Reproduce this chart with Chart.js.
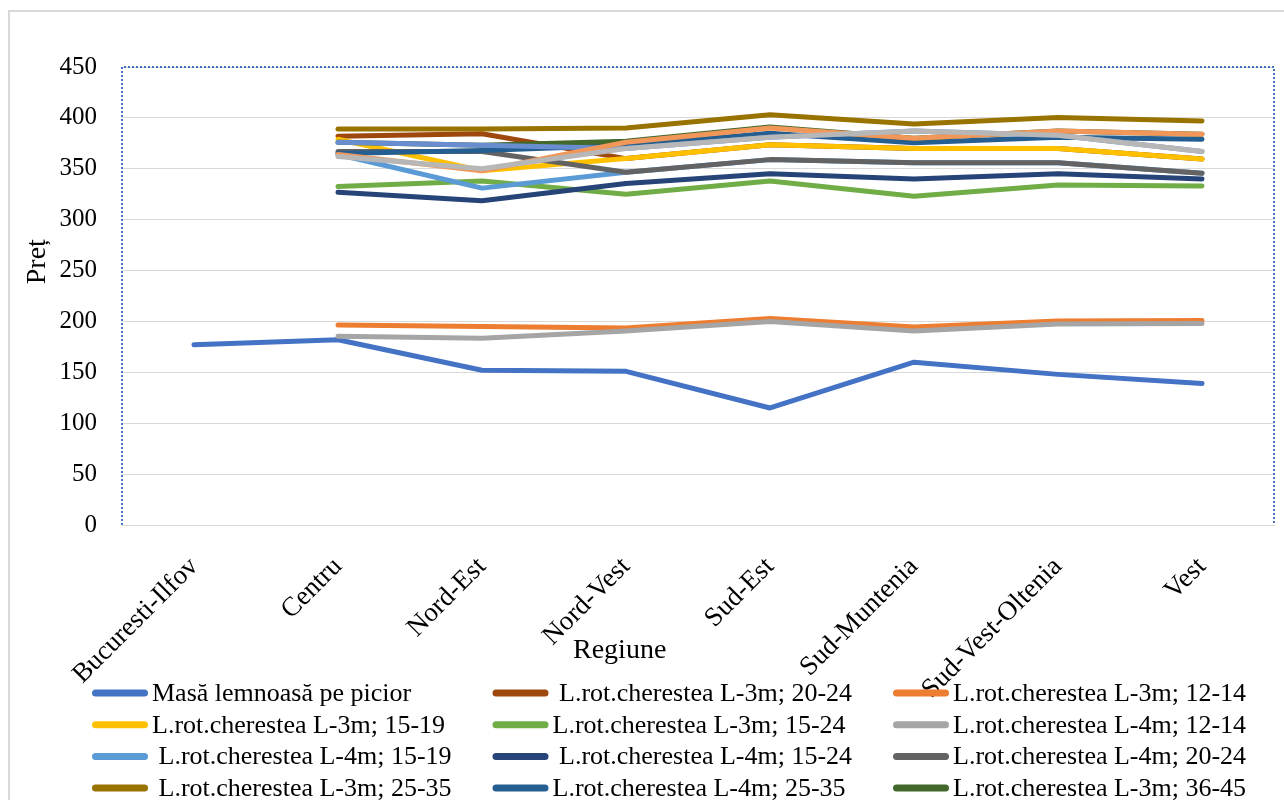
<!DOCTYPE html>
<html>
<head>
<meta charset="utf-8">
<script src="https://cdn.jsdelivr.net/npm/chart.js@4.4.0/dist/chart.umd.min.js"></script>
<style>
  html, body { margin: 0; padding: 0; overflow: hidden; background: #fff; }
  #frame { position: absolute; left: 8px; top: 10px; width: 1400px; height: 1000px; border: 2px solid #d9d9d9; }
  #wrap { position: absolute; left: 0; top: 0; width: 1284px; height: 800px; }
</style>
</head>
<body>
<div id="frame"></div>
<div id="wrap"><canvas id="c"></canvas></div>
<script>
// Regions on the category axis
const regions = ["Bucuresti-Ilfov", "Centru", "Nord-Est", "Nord-Vest", "Sud-Est", "Sud-Muntenia", "Sud-Vest-Oltenia", "Vest"];
const yTicks = [0, 50, 100, 150, 200, 250, 300, 350, 400, 450];

// Prices per region (lei/m³)
const masaLemnoasa   = [177, 182, 152, 151, 115, 160, 148, 139];
const l3m_20_24      = [null, 382, 384.5, 360, 373.5, 370, 370, 359.5];
const l3m_12_14      = [null, 196.5, 195, 193.5, 203, 194.5, 200.5, 201];
const l3m_15_19      = [null, 379, 348, 360, 373.5, 370, 370, 359.5];
const l3m_15_24      = [null, 332.5, 338, 325, 338, 323, 334, 333];
const l4m_12_14      = [null, 185.5, 183.5, 190.5, 200, 190.5, 197.5, 198];
const l4m_15_19      = [null, 364, 331, 346.5, 359, 356, 356, 345.5];
const l4m_15_24      = [null, 327, 318.5, 335.5, 345, 340, 345, 340];
const l4m_20_24      = [null, 367, 367, 346.5, 359, 356, 356, 345.5];
const l3m_25_35      = [null, 389, 389, 390, 403, 394, 400.5, 397];
const l4m_25_35      = [null, 365, 368, 373, 385, 375.5, 381, 379];
const l3m_36_45      = [null, 376, 373, 377, 391, 380, 387, 384];
const l4m_36_45      = [null, 376, 373, 370, 381, 387, 383, 367];
const l3m_peste45    = [null, 364, 348, 376, 390, 380, 387, 384];
const l4m_peste45    = [null, 362, 350, 370, 381, 387, 383, 367];

const seriesNames = [
  "Masă lemnoasă pe picior",
  " L.rot.cherestea L-3m; 20-24",
  "L.rot.cherestea L-3m; 12-14",
  "L.rot.cherestea L-3m; 15-19",
  "L.rot.cherestea L-3m; 15-24",
  "L.rot.cherestea L-4m; 12-14",
  " L.rot.cherestea L-4m; 15-19",
  " L.rot.cherestea L-4m; 15-24",
  "L.rot.cherestea L-4m; 20-24",
  " L.rot.cherestea L-3m; 25-35",
  "L.rot.cherestea L-4m; 25-35",
  "L.rot.cherestea L-3m; 36-45",
  "L.rot.cherestea L-4m; 36-45",
  "L.rot.cherestea L-3m; >45",
  "L.rot.cherestea L-4m; >45"
];
const seriesValues = [
  masaLemnoasa, l3m_20_24, l3m_12_14, l3m_15_19, l3m_15_24, l4m_12_14, l4m_15_19,
  l4m_15_24, l4m_20_24, l3m_25_35, l4m_25_35, l3m_36_45, l4m_36_45, l3m_peste45, l4m_peste45
];
const seriesColors = [
  "#4472C4", "#9E480E", "#ED7D31", "#FFC000", "#70AD47", "#A5A5A5", "#5B9BD5",
  "#264478", "#636363", "#997300", "#255E91", "#43682B", "#698ED0", "#F1975A", "#B7B7B7"
];

const FONT = "'Liberation Serif', 'Times New Roman', serif";
Chart.defaults.font.family = FONT;
Chart.defaults.color = "#000";

const datasets = seriesNames.map((name, i) => ({
  label: name,
  data: seriesValues[i],
  borderColor: seriesColors[i],
  backgroundColor: seriesColors[i],
  borderWidth: 5,
  pointRadius: 0,
  pointHoverRadius: 0,
  tension: 0,
  fill: false,
  borderCapStyle: "round",
  borderJoinStyle: "round",
  order: -i            // later series are painted on top
}));

// Plot-area outline, axis titles and a three-column legend
const decor = {
  id: "decor",
  beforeDatasetsDraw(chart) {
    const { ctx, chartArea: a } = chart;
    ctx.save();
    ctx.strokeStyle = "#4472C4";
    ctx.lineWidth = 2;
    ctx.setLineDash([2, 2]);
    ctx.beginPath();
    ctx.moveTo(a.left, a.bottom);
    ctx.lineTo(a.left, a.top);
    ctx.lineTo(a.right, a.top);
    ctx.lineTo(a.right, a.bottom);
    ctx.stroke();
    ctx.restore();
  },
  afterDraw(chart) {
    const { ctx, chartArea: a } = chart;
    ctx.save();
    ctx.fillStyle = "#000";
    ctx.textAlign = "center";
    ctx.textBaseline = "middle";
    ctx.font = "28px " + FONT;
    ctx.save();
    ctx.translate(a.left - 84, a.top + a.height * 0.425);
    ctx.rotate(-Math.PI / 2);
    ctx.fillText("Preț", 0, 0);
    ctx.restore();
    ctx.fillText("Regiune", a.left + a.width * 0.432, a.bottom + 126);

    ctx.font = "26px " + FONT;
    ctx.textAlign = "left";
    chart.data.datasets.forEach((ds, i) => {
      const row = Math.floor(i / 3), col = i % 3;
      const x0 = a.left - 30 + col * 400.5;
      const y = a.bottom + 168 + row * 31.7;
      ctx.strokeStyle = ds.borderColor;
      ctx.lineWidth = 7;
      ctx.lineCap = "round";
      ctx.beginPath();
      ctx.moveTo(x0 + 3.5, y);
      ctx.lineTo(x0 + 52.5, y);
      ctx.stroke();
      ctx.fillText(ds.label, x0 + 60, y + 1);
    });
    ctx.restore();
  }
};

new Chart(document.getElementById("c"), {
  type: "line",
  data: { labels: regions, datasets },
  plugins: [decor],
  options: {
    responsive: true,
    maintainAspectRatio: false,
    animation: false,
    events: [],
    layout: { padding: { top: 67, right: 10, left: 0, bottom: 0 } },
    plugins: { legend: { display: false }, tooltip: { enabled: false } },
    scales: {
      x: {
        type: "category",
        offset: true,
        grid: { display: false },
        border: { display: true, color: "#d9d9d9", width: 1 },
        ticks: {
          autoSkip: false,
          maxRotation: 45,
          minRotation: 45,
          padding: 18,
          font: { size: 27, family: FONT },
          color: "#000"
        },
        afterFit(scale) { scale.height = 275; }
      },
      y: {
        min: 0,
        max: 450,
        afterBuildTicks(scale) { scale.ticks = yTicks.map(v => ({ value: v })); },
        grid: { color: "#d9d9d9", lineWidth: 1, drawTicks: false },
        border: { display: false },
        ticks: { padding: 25, font: { size: 25, family: FONT }, color: "#000" },
        afterFit(scale) { scale.width = 122; }
      }
    }
  }
});
</script>
</body>
</html>
